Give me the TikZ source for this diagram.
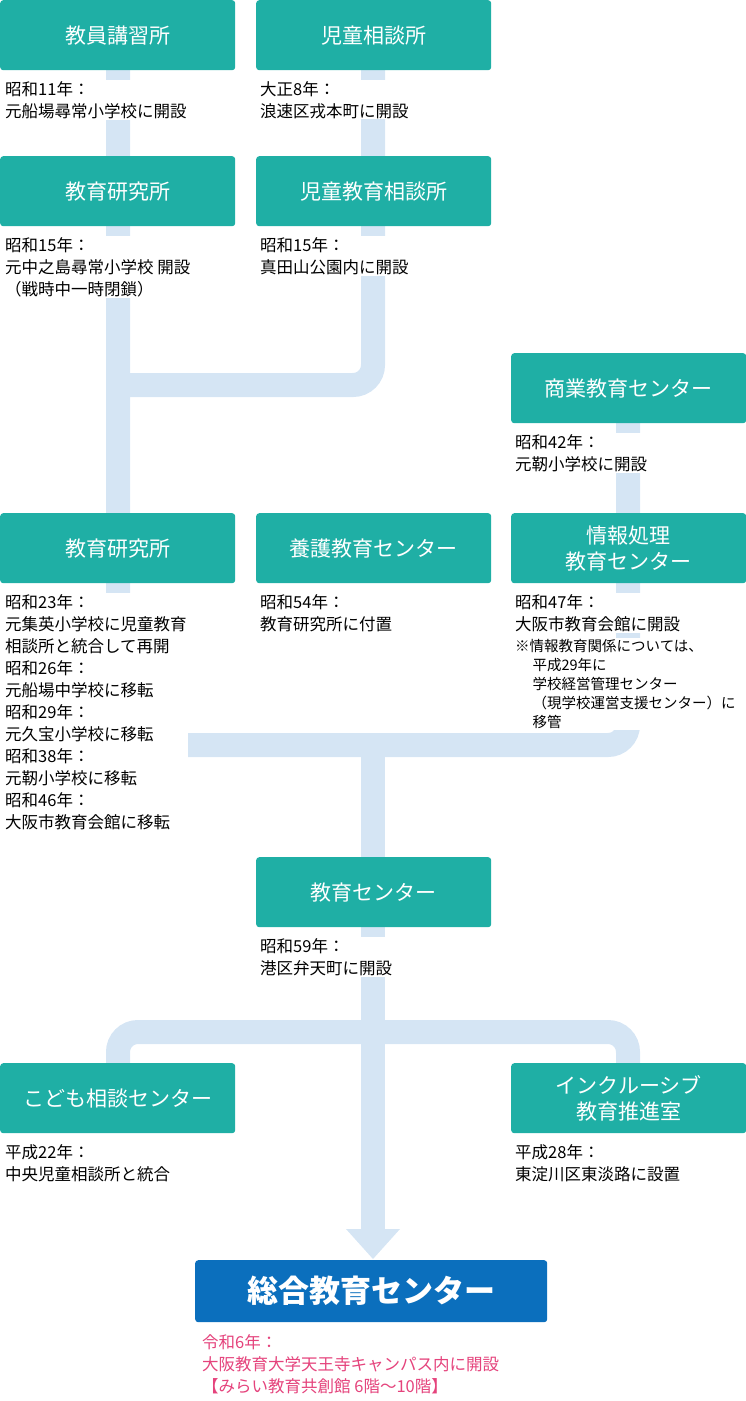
\documentclass[tikz,border=0pt]{standalone}
\usepackage{fontspec}
\setmainfont{Noto Sans CJK JP}
\usetikzlibrary{arrows.meta}
\definecolor{teal}{HTML}{1FAFA5}
\definecolor{bluebox}{HTML}{0B6FBD}
\definecolor{conn}{HTML}{D5E5F4}
\definecolor{pink}{HTML}{E5437C}
\begin{document}
\begin{tikzpicture}[x=1pt,y=-1pt,
  box/.style={fill=teal,text=white,rounded corners=3pt,minimum width=235pt,minimum height=70pt,anchor=north west,font=\fontsize{21}{26}\selectfont,align=center,inner sep=0pt},
  lab/.style={anchor=north west,align=left,font=\fontsize{16.5}{22}\selectfont,fill=white,inner sep=1pt,text=black},
  note/.style={anchor=north west,align=left,font=\fontsize{14.5}{19}\selectfont,fill=white,inner sep=1pt},
  line/.style={draw=conn,line width=24pt,rounded corners=20pt}]
\useasboundingbox (0,0) rectangle (746,1401);
% connectors
\coordinate (a1) at (118,35); \coordinate (a2) at (373,35);
\coordinate (a3) at (628,390); \coordinate (m) at (373,745);
\coordinate (s) at (373,1231);
\draw[line] (a1) -- (118,745) -- (628,745) -- (a3);
\draw[line] (a2) -- (373,385) -- (118,385);
\draw[line] (m) -- (s);
\draw[line] (118,1090) -- (118,1032) -- (628,1032) -- (628,1090);
\fill[conn] (346,1229) -- (400,1229) -- (373,1259) -- cycle;
% boxes
\node[box] (b1) at (0,0) {教員講習所};
\node[box] (b2) at (256,0) {児童相談所};
\node[box] (b3) at (0,156) {教育研究所};
\node[box] (b4) at (256,156) {児童教育相談所};
\node[box] (b5) at (511,353) {商業教育センター};
\node[box] (b6) at (0,513) {教育研究所};
\node[box] (b7) at (256,513) {養護教育センター};
\node[box] (b8) at (511,513) {情報処理\\教育センター};
\node[box] (b9) at (256,857) {教育センター};
\node[box] (b10) at (0,1063) {こども相談センター};
\node[box] (b11) at (511,1063) {インクルーシブ\\教育推進室};
\node[box,fill=bluebox,minimum width=352pt,minimum height=62pt,font=\fontsize{31}{36}\selectfont\bfseries] (b12) at (195,1260) {総合教育センター};
% labels
\node[lab] (l1) at (4,80) {昭和11年：\\元船場尋常小学校に開設};
\node[lab] (l2) at (259,80) {大正8年：\\浪速区戎本町に開設};
\node[lab] (l3) at (4,236) {昭和15年：\\元中之島尋常小学校 開設\\（戦時中一時閉鎖）};
\node[lab] (l4) at (259,236) {昭和15年：\\真田山公園内に開設};
\node[lab] (l5) at (514,433) {昭和42年：\\元靭小学校に開設};
\node[lab] (l6) at (4,593) {昭和23年：\\元集英小学校に児童教育\\相談所と統合して再開\\昭和26年：\\元船場中学校に移転\\昭和29年：\\元久宝小学校に移転\\昭和38年：\\元靭小学校に移転\\昭和46年：\\大阪市教育会館に移転};
\node[lab] (l7) at (259,593) {昭和54年：\\教育研究所に付置};
\node[lab] (l8) at (514,593) {昭和47年：\\大阪市教育会館に開設};
\node[note] (l8n) at (514,638) {※情報教育関係については、\\\hspace*{1.2em}平成29年に\\\hspace*{1.2em}学校経営管理センター\\\hspace*{1.2em}（現学校運営支援センター）に\\\hspace*{1.2em}移管};
\node[lab] (l9) at (259,937) {昭和59年：\\港区弁天町に開設};
\node[lab] (l10) at (4,1143) {平成22年：\\中央児童相談所と統合};
\node[lab] (l11) at (514,1143) {平成28年：\\東淀川区東淡路に設置};
\node[lab,text=pink] (l12) at (201,1333) {令和6年：\\大阪教育大学天王寺キャンパス内に開設\\【みらい教育共創館 6階～10階】};
\end{tikzpicture}
\end{document}
